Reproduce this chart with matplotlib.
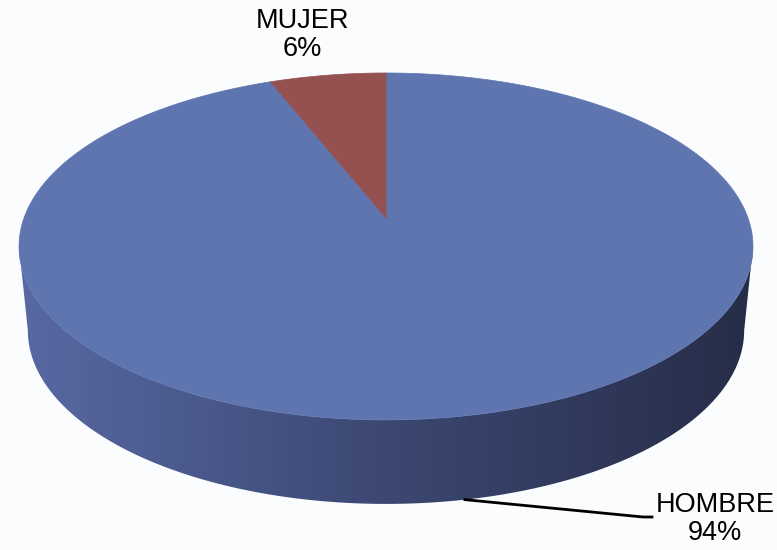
import numpy as np
import matplotlib.pyplot as plt
from matplotlib.patches import Polygon
from matplotlib.colors import LinearSegmentedColormap

plt.rcParams['font.family'] = ['Liberation Sans', 'DejaVu Sans']

labels = ['HOMBRE', 'MUJER']
values = [94, 6]
pct_text = ['94%', '6%']
top_colors = ['#5e75b0', '#955050']
side_colors = ['#5869a3', '#3c4872', '#262d48']

# disc geometry in pixels (perspective top face, shifted bottom face)
cx, cy = 386, 218
A, B, k = 362, 168.8, 0.164
depth = 84
shrink = 0.976


def top_pt(t):
    u, v = np.cos(t), np.sin(t)
    w = 1 + k * v
    return cx + A * u / w, cy - B * v / w


def bot_pt(t):
    x, y = top_pt(t)
    return cx + (x - cx) * shrink, y + depth


fig = plt.figure(figsize=(7.77, 5.5), dpi=100)
fig.patch.set_facecolor('#fbfcfd')
ax = fig.add_axes([0, 0, 1, 1])
ax.set_xlim(0, 777)
ax.set_ylim(550, 0)
ax.axis('off')

# slice angles, clockwise from 12 o'clock
total = float(sum(values))
bounds = np.radians(90 - 360 * np.concatenate([[0], np.cumsum(values)]) / total)

# side wall (front half)
a = np.arcsin(k)
ts = np.linspace(np.pi + a, 2 * np.pi - a, 300)
tx, ty = top_pt(ts)
bx, by = bot_pt(ts)
side = Polygon(np.column_stack([np.r_[tx, bx[::-1]], np.r_[ty, by[::-1]]]),
               closed=True, facecolor='none', edgecolor='none')
ax.add_patch(side)
cmap = LinearSegmentedColormap.from_list('side', side_colors)
grad = np.linspace(0, 1, 256)[None, :]
im = ax.imshow(grad, cmap=cmap, aspect='auto',
               extent=(tx.min(), tx.max(), by.max() + 2, ty.min() - 2), zorder=1)
im.set_clip_path(side)

# top face wedges
for i in range(len(values)):
    t = np.linspace(bounds[i], bounds[i + 1], 400)
    x, y = top_pt(t)
    pts = np.column_stack([np.r_[cx, x], np.r_[cy, y]])
    ax.add_patch(Polygon(pts, closed=True, facecolor=top_colors[i],
                         edgecolor=top_colors[i], lw=0.5, zorder=2))

# labels
mid = (bounds[:-1] + bounds[1:]) / 2
# HOMBRE: leader line from bottom edge
lx, ly = bot_pt(mid[0])
ax.plot([lx, 643, 652], [ly, 517, 517], color='black', lw=2, zorder=3)
ax.text(715, 492, labels[0] + '\n' + pct_text[0], ha='center', va='top',
        fontsize=19.5, linespacing=1.1, color='black')
# MUJER: above the slice
ax.text(302, 8, labels[1] + '\n' + pct_text[1], ha='center', va='top',
        fontsize=19.5, linespacing=1.1, color='black')

fig.savefig('out.png', dpi=100, facecolor=fig.get_facecolor())
